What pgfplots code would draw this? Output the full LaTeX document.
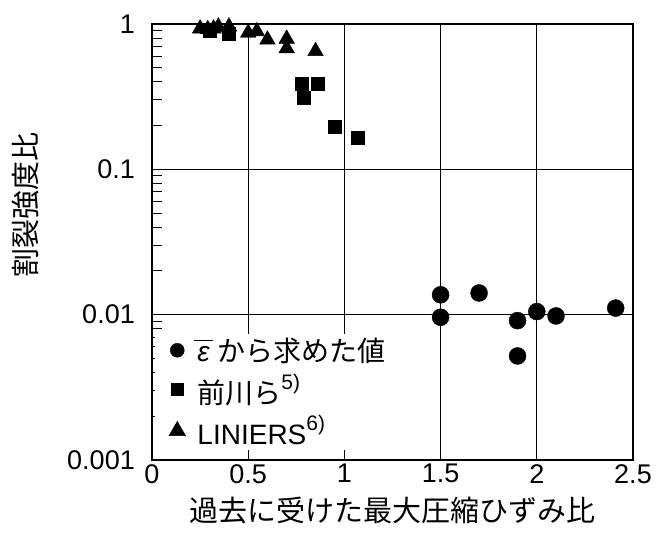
\documentclass[border=0pt]{standalone}
\usepackage{pgfplots}
\pgfplotsset{compat=1.18}
\usepackage{fontspec}
\setmainfont{Liberation Sans}
\newfontfamily\jp{Noto Sans CJK JP}
\newcommand{\epsbar}{\makebox[0pt][l]{\hspace*{-3pt}\raisebox{20pt}{\rule{19pt}{1.6pt}}}{\itshape ε}}
\newcommand{\sups}[1]{\raisebox{0.5em}{\fontsize{21}{24}\selectfont #1}}
\begin{document}
\begin{tikzpicture}
\path[use as bounding box] (-152pt,-86pt) rectangle (518pt,460pt);
\begin{axis}[
  scale only axis, width=481pt, height=436pt,
  ymode=log, xmin=0, xmax=2.5, ymin=0.001, ymax=1,
  xtick={0,0.5,1,1.5,2,2.5},
  xticklabels={0,0.5,1,1.5,2,2.5},
  ytick={0.001,0.01,0.1,1},
  yticklabels={0.001,0.01,0.1,1},
  /pgf/number format/assume math mode=true,
  grid=major,
  major grid style={black, line width=1.1pt},
  axis line style={black, line width=1.5pt},
  tick align=inside, ytick pos=left, xtick pos=bottom,
  major tick length=10pt, minor tick length=10pt,
  ytick style={black, line width=1pt},
  xtick style={draw=none},
  xticklabel style={font=\fontsize{27}{30}\selectfont, inner sep=0pt, yshift=-4pt},
  yticklabel style={font=\fontsize{27}{30}\selectfont, inner sep=0pt, xshift=-17pt},
  every axis x label/.style={at={(axis description cs:0.5,-0.115)}, anchor=center},
  xlabel={\fontsize{29}{32}\selectfont\jp 過去に受けた最大圧縮ひずみ比},
  every axis y label/.style={at={(axis description cs:-0.262,0.585)}, anchor=center, rotate=90},
  ylabel={\fontsize{29}{32}\selectfont\jp 割裂強度比},
  clip=false,
  legend style={draw=none, fill=white, at={(axis description cs:0.006,0.29)}, anchor=north west,
    font=\fontsize{28}{32}\selectfont, inner sep=2pt, row sep=7pt},
  legend cell align=left,
  legend image code/.code={\path (0pt,0pt) (38pt,0pt); \draw[#1] plot coordinates {(20pt,0pt)};},
]
\addplot[only marks, mark=*, mark size=8.5pt, black, legend image post style={mark size=7pt}] coordinates {
  (1.5,0.0137) (1.5,0.0096) (1.7,0.0141) (1.9,0.0091) (1.9,0.0052)
  (2.0,0.0105) (2.1,0.0098) (2.41,0.0111)
};
\addlegendentry{\epsbar\ {\jp から求めた値}}
\addplot[only marks, mark=square*, mark size=6.5pt, black, legend image post style={mark size=6pt}] coordinates {
  (0.30,0.90) (0.40,0.86) (0.78,0.39) (0.79,0.31) (0.86,0.39)
  (0.95,0.195) (1.07,0.165)
};
\addlegendentry{{\jp 前川ら}\sups{5)}}
\addplot[only marks, mark=triangle*, mark size=9pt, black, legend image post style={mark size=9.5pt}] coordinates {
  (0.25,0.93) (0.29,0.92) (0.32,0.93) (0.345,0.96) (0.40,0.96) (0.50,0.87)
  (0.545,0.89) (0.60,0.78) (0.70,0.79) (0.70,0.68) (0.85,0.65)
};
\addlegendentry{LINIERS\sups{6)}}
\end{axis}
\end{tikzpicture}
\end{document}
